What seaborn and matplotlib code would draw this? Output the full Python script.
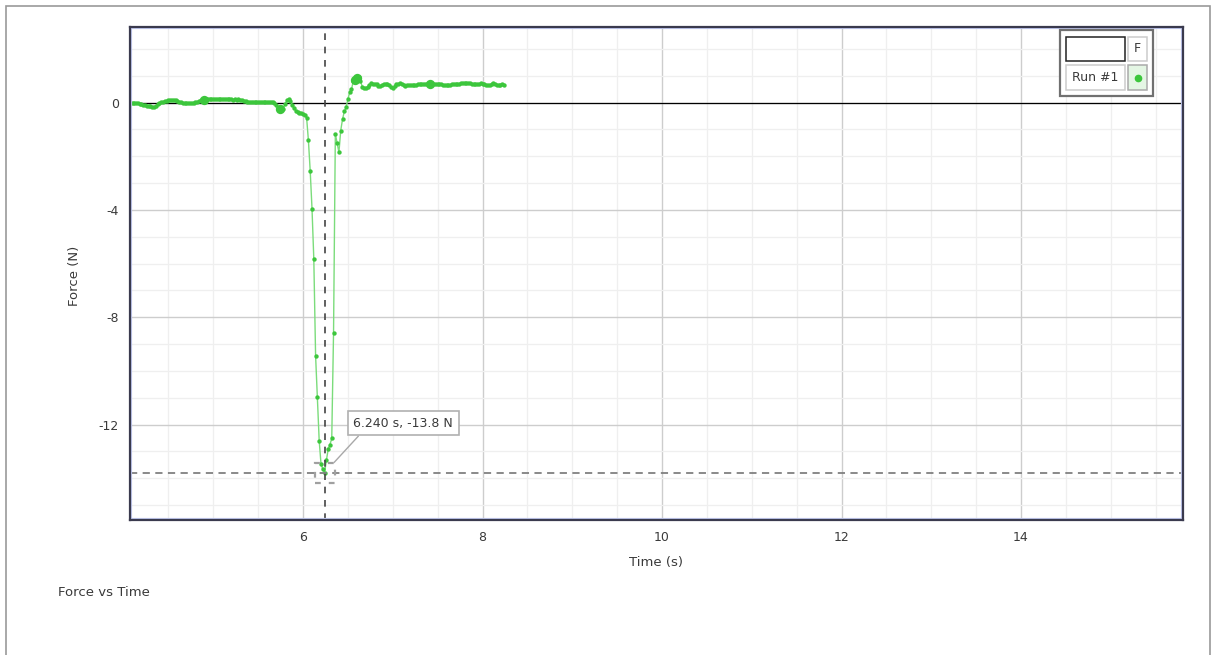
import numpy as np
import pandas as pd
import matplotlib
matplotlib.use("Agg")
import matplotlib.pyplot as plt
import seaborn as sns
from matplotlib.patches import Rectangle
from matplotlib.lines import Line2D
from matplotlib.ticker import MultipleLocator, FixedLocator

# ---------------- data ----------------
t_start = 4.08      # first sample time (s)
dt = 0.02           # sample interval (s), 50 Hz
force_N = [
    0.00, -0.01, -0.02, -0.03, -0.03, -0.04, -0.06, -0.08, -0.10, -0.11, -0.12, -0.13,   # 4.08-4.30
    -0.15, -0.17, -0.12, -0.05, -0.01, 0.02, 0.04, 0.05, 0.07, 0.09, 0.10, 0.11,          # 4.32-4.54
    0.10, 0.08, 0.06, 0.04, 0.02, 0.00, -0.01, -0.02, -0.02, -0.01, -0.02, 0.00,          # 4.56-4.78
    0.02, 0.03, 0.05, 0.08, 0.10, 0.11, 0.12, 0.13, 0.14, 0.14, 0.15, 0.14,               # 4.80-5.02
    0.14, 0.15, 0.14, 0.13, 0.14, 0.12, 0.12, 0.13, 0.12, 0.11, 0.12, 0.11,               # 5.04-5.26
    0.12, 0.10, 0.08, 0.06, 0.05, 0.04, 0.03, 0.03, 0.04, 0.03, 0.02, 0.03,               # 5.28-5.50
    0.02, 0.03, 0.02, 0.03, 0.03, 0.02, 0.03, 0.04, 0.00, -0.08, -0.20, -0.25,            # 5.52-5.74
    -0.15, -0.22, -0.05, 0.08, 0.14, 0.05, -0.08, -0.20, -0.30, -0.35, -0.37, -0.40,      # 5.76-5.98
    -0.43, -0.47, -0.57, -1.41, -2.55, -3.95, -5.82, -9.44, -10.99, -12.60, -13.46, -13.67,  # 6.00-6.22
    -13.80, -13.34, -12.93, -12.75, -12.52, -8.57, -1.17, -1.50, -1.85, -1.04, -0.62, -0.33,  # 6.24-6.46
    -0.17, 0.13, 0.39, 0.50, 0.80, 0.85, 0.90, 0.97, 0.80, 0.60, 0.55, 0.56,              # 6.48-6.70
    0.57, 0.65, 0.72, 0.70, 0.68, 0.70, 0.63, 0.62, 0.67, 0.70, 0.71, 0.70,               # 6.72-6.94
    0.66, 0.58, 0.55, 0.62, 0.68, 0.70, 0.72, 0.68, 0.64, 0.62, 0.65, 0.64,               # 6.96-7.18
    0.66, 0.67, 0.66, 0.67, 0.68, 0.69, 0.70, 0.70, 0.71, 0.71, 0.71, 0.71,               # 7.20-7.42
    0.70, 0.71, 0.70, 0.70, 0.69, 0.68, 0.67, 0.66, 0.66, 0.67, 0.67, 0.68,               # 7.44-7.66
    0.68, 0.69, 0.70, 0.71, 0.72, 0.73, 0.74, 0.74, 0.73, 0.72, 0.71, 0.70,               # 7.68-7.90
    0.69, 0.68, 0.70, 0.72, 0.71, 0.68, 0.66, 0.64, 0.66, 0.70, 0.72, 0.71,               # 7.92-8.14
    0.66, 0.64, 0.67, 0.68, 0.67,                                                          # 8.16-8.24
]
time_s = np.round(t_start + dt * np.arange(len(force_N)), 2)

highlight_times = [4.90, 5.74, 6.58, 6.60, 7.42]
selected_time = 6.240
selected_force = -13.8
x_major_ticks = [6, 8, 10, 12, 14]
y_major_ticks = [0, -4, -8, -12]
series_name = "Run #1"
legend_header = "F"

df = pd.DataFrame({"Time (s)": time_s, "Force (N)": force_N})
hl = df[df["Time (s)"].round(2).isin(highlight_times)]

# ---------------- style ----------------
sns.set_style("white")
plt.rcParams["font.family"] = ["DejaVu Sans"]
plt.rcParams["axes.unicode_minus"] = False

W, H = 1217, 655
fig = plt.figure(figsize=(W / 100, H / 100), dpi=100)
fig.patch.set_facecolor("white")

def fx(x):
    return x / W

def fy(y):
    return 1 - y / H

ax = fig.add_axes([fx(130), fy(520), fx(1183) - fx(130), fy(27) - fy(520)])
ax.set_xlim(4.072, 15.805)
ax.set_ylim(-15.56, 2.82)

# grid
ax.xaxis.set_major_locator(FixedLocator(x_major_ticks))
ax.xaxis.set_minor_locator(MultipleLocator(0.5))
ax.yaxis.set_major_locator(FixedLocator(y_major_ticks))
ax.yaxis.set_minor_locator(MultipleLocator(1))
ax.grid(which="minor", color="#efefef", lw=0.9, zorder=0)
ax.grid(which="major", color="#cdcdcd", lw=1.0, zorder=0)
ax.set_axisbelow(True)
ax.axhline(0, color="black", lw=0.9, zorder=1)

# data
sns.lineplot(data=df, x="Time (s)", y="Force (N)", ax=ax, color="#7bdc7b",
             lw=1.0, estimator=None, sort=False, zorder=3, legend=False)
sns.scatterplot(data=df, x="Time (s)", y="Force (N)", ax=ax, color="#3cc63c",
                s=10, linewidth=0, zorder=4, legend=False)
sns.scatterplot(data=hl, x="Time (s)", y="Force (N)", ax=ax, color="#3cc63c",
                s=45, linewidth=0, zorder=4, legend=False)

# crosshair
ax.axvline(selected_time, color="#444444", lw=1.2, ls=(0, (4, 4)), zorder=5)
ax.axhline(selected_force, color="#808080", lw=1.3, ls=(0, (4, 3)), zorder=5)

# selection bracket
bw, bh = 20 / 89.75, 20 / 26.86
ax.add_patch(Rectangle((selected_time - bw / 2, selected_force - bh / 2), bw, bh,
                       fill=False, ec="#a0a0a0", lw=1.6, ls=(0, (2.6, 3.6)), zorder=6))

# annotation
ax.annotate(f"{selected_time:.3f} s, {selected_force:.1f} N",
            xy=(selected_time, selected_force), xytext=(56.5, 35.6),
            textcoords="offset points", ha="center", va="center",
            fontsize=9, color="#3a3a3a",
            bbox=dict(boxstyle="square,pad=0.45", fc="white", ec="#b0b0b0", lw=1.2),
            arrowprops=dict(arrowstyle="-", color="#a8a8a8", lw=1.0,
                            shrinkA=0, shrinkB=10, relpos=(0.11, 0.0)),
            zorder=7)

# spines & ticks
for s in ax.spines.values():
    s.set_color("#3a3a4e")
    s.set_linewidth(1.6)
    s.set_zorder(8)
ax.add_patch(Rectangle((0, 0), 1, 1, transform=ax.transAxes, fill=False,
                       ec="#c4ccf2", lw=3.0, clip_on=True, zorder=7))
ax.tick_params(which="major", direction="out", length=5, width=1, color="#c0c0c0",
               labelsize=9, labelcolor="#3a3a3a", pad=3)
ax.tick_params(which="minor", direction="out", length=4, width=1, color="#e0e0e0")
ax.set_xticklabels([str(v) for v in x_major_ticks])
ax.set_yticklabels([str(v) for v in y_major_ticks])

ax.set_xlabel("Time (s)", fontsize=9.5, color="#3a3a3a")
ax.set_ylabel("Force (N)", fontsize=9.5, color="#3a3a3a")
ax.xaxis.set_label_coords((656 - 130) / 1053, -(556 - 520) / 493)
ax.yaxis.set_label_coords((81 - 130) / 1053, (520 - 276) / 493)

# title at bottom-left
fig.text(fx(58), fy(592), "Force vs Time", fontsize=9.5, color="#3a3a3a",
         ha="left", va="center")

# outer frame
fig.add_artist(Rectangle((fx(6), -0.05), fx(1210) - fx(6), fy(6) + 0.05,
                         transform=fig.transFigure, fill=False, ec="#9a9a9a", lw=1.2))

# legend table
def prect(x0, y0, x1, y1, **kw):
    fig.add_artist(Rectangle((fx(x0), fy(y1)), fx(x1) - fx(x0), fy(y0) - fy(y1),
                             transform=fig.transFigure, **kw))

prect(1060, 30, 1153, 96, fc="white", ec="#707070", lw=1.6, zorder=10)
prect(1066, 37, 1125, 61, fc="white", ec="#222222", lw=1.1, zorder=11)
prect(1128, 37, 1147, 61, fc="white", ec="#cccccc", lw=1.1, zorder=11)
prect(1066, 65, 1125, 90, fc="white", ec="#cccccc", lw=1.1, zorder=11)
prect(1128, 65, 1147, 90, fc="#e4f6e4", ec="#aaaaaa", lw=1.1, zorder=11)
fig.text(fx(1137.5), fy(49), legend_header, fontsize=9, color="#3a3a3a",
         ha="center", va="center", zorder=12)
fig.text(fx(1095.5), fy(77.5), series_name, fontsize=9, color="#3a3a3a",
         ha="center", va="center", zorder=12)
fig.add_artist(Line2D([fx(1137.5)], [fy(77.5)], transform=fig.transFigure,
                      marker="o", ms=4.5, mfc="#3cc63c", mec="#3cc63c", ls="none", zorder=12))

fig.savefig("out.png", dpi=100)
